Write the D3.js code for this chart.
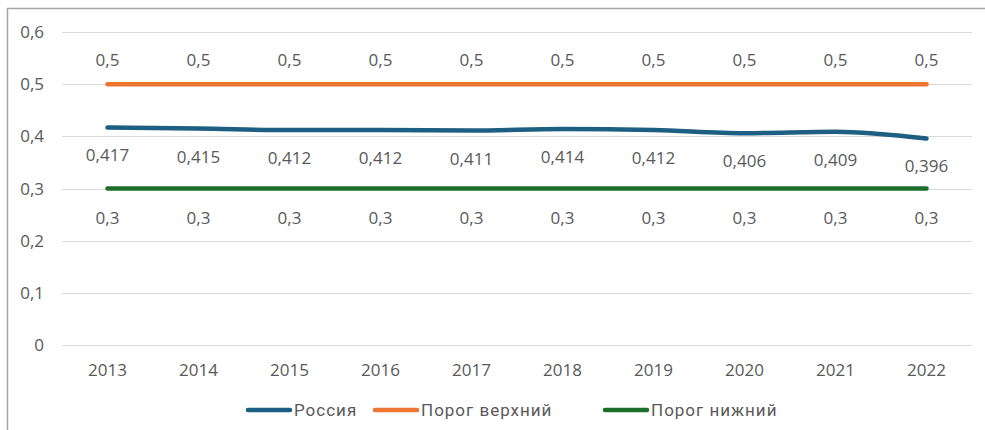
<!DOCTYPE html>
<html>
<head>
<meta charset="utf-8">
<script src="https://cdn.jsdelivr.net/npm/d3@7"></script>
<style>
  body { margin: 0; background: #fff; }
  svg { display: block; font-family: "Open Sans", "Noto Sans", sans-serif; }
</style>
</head>
<body>
<svg id="chart" width="985" height="430"></svg>
<script>
const years = ["2013","2014","2015","2016","2017","2018","2019","2020","2021","2022"];
const russia = [0.417, 0.415, 0.412, 0.412, 0.411, 0.414, 0.412, 0.406, 0.409, 0.396];
const upper = [0.5, 0.5, 0.5, 0.5, 0.5, 0.5, 0.5, 0.5, 0.5, 0.5];
const lower = [0.3, 0.3, 0.3, 0.3, 0.3, 0.3, 0.3, 0.3, 0.3, 0.3];
const yTicks = [0, 0.1, 0.2, 0.3, 0.4, 0.5, 0.6];

const series = [
  { name: "Россия", values: russia, color: "#1d5f83", labelDy: 34 },
  { name: "Порог верхний", values: upper, color: "#f07533", labelDy: -18 },
  { name: "Порог нижний", values: lower, color: "#1e6e2b", labelDy: 35 }
];

const svg = d3.select("#chart");
const fmt = v => String(v).replace(".", ",");

// frame
svg.append("path")
  .attr("d", "M7.5,430 V8.5 H985")
  .attr("fill", "none")
  .attr("stroke", "#a6a6a6")
  .attr("stroke-width", 1.5);

const x = d3.scaleBand().domain(years).range([62, 972]);
const y = d3.scaleLinear().domain([0, 0.6]).range([345, 32]);

// gridlines
svg.append("g").selectAll("line").data(yTicks).join("line")
  .attr("x1", 62).attr("x2", 972)
  .attr("y1", d => Math.round(y(d)) + 0.5).attr("y2", d => Math.round(y(d)) + 0.5)
  .attr("stroke", "#d9d9d9").attr("stroke-width", 1);

// y tick labels
svg.append("g").selectAll("text").data(yTicks).join("text")
  .attr("x", 44).attr("y", d => y(d) + 6)
  .attr("text-anchor", "end")
  .attr("font-size", 17).attr("fill", "#595959")
  .text(d => fmt(d));

// x tick labels
svg.append("g").selectAll("text").data(years).join("text")
  .attr("x", d => x(d) + x.bandwidth() / 2).attr("y", 376)
  .attr("text-anchor", "middle")
  .attr("font-size", 17).attr("fill", "#595959")
  .text(d => d);

const line = d3.line()
  .x((d, i) => x(years[i]) + x.bandwidth() / 2)
  .y(d => y(d))
  .curve(d3.curveMonotoneX);

// draw thresholds first, then Russia on top
[series[1], series[2], series[0]].forEach(s => {
  svg.append("path")
    .attr("d", line(s.values))
    .attr("fill", "none")
    .attr("stroke", s.color)
    .attr("stroke-width", 4.5)
    .attr("stroke-linecap", "round");

  svg.append("g").selectAll("text").data(s.values).join("text")
    .attr("x", (d, i) => x(years[i]) + x.bandwidth() / 2)
    .attr("y", d => y(d) + s.labelDy)
    .attr("text-anchor", "middle")
    .attr("font-size", 17).attr("fill", "#595959")
    .text(d => fmt(d));
});

// legend
const legendX = [248, 375, 605];
const legend = svg.append("g");
series.forEach((s, i) => {
  const g = legend.append("g").attr("transform", `translate(${legendX[i]},410)`);
  g.append("line").attr("x1", 0).attr("x2", 42).attr("y1", 0).attr("y2", 0)
    .attr("stroke", s.color).attr("stroke-width", 4.5).attr("stroke-linecap", "round");
  g.append("text").attr("x", 46).attr("y", 6)
    .attr("font-family", "Roboto, sans-serif")
    .attr("font-size", 17).attr("letter-spacing", 1)
    .attr("fill", "#595959")
    .text(s.name);
});
</script>
</body>
</html>
